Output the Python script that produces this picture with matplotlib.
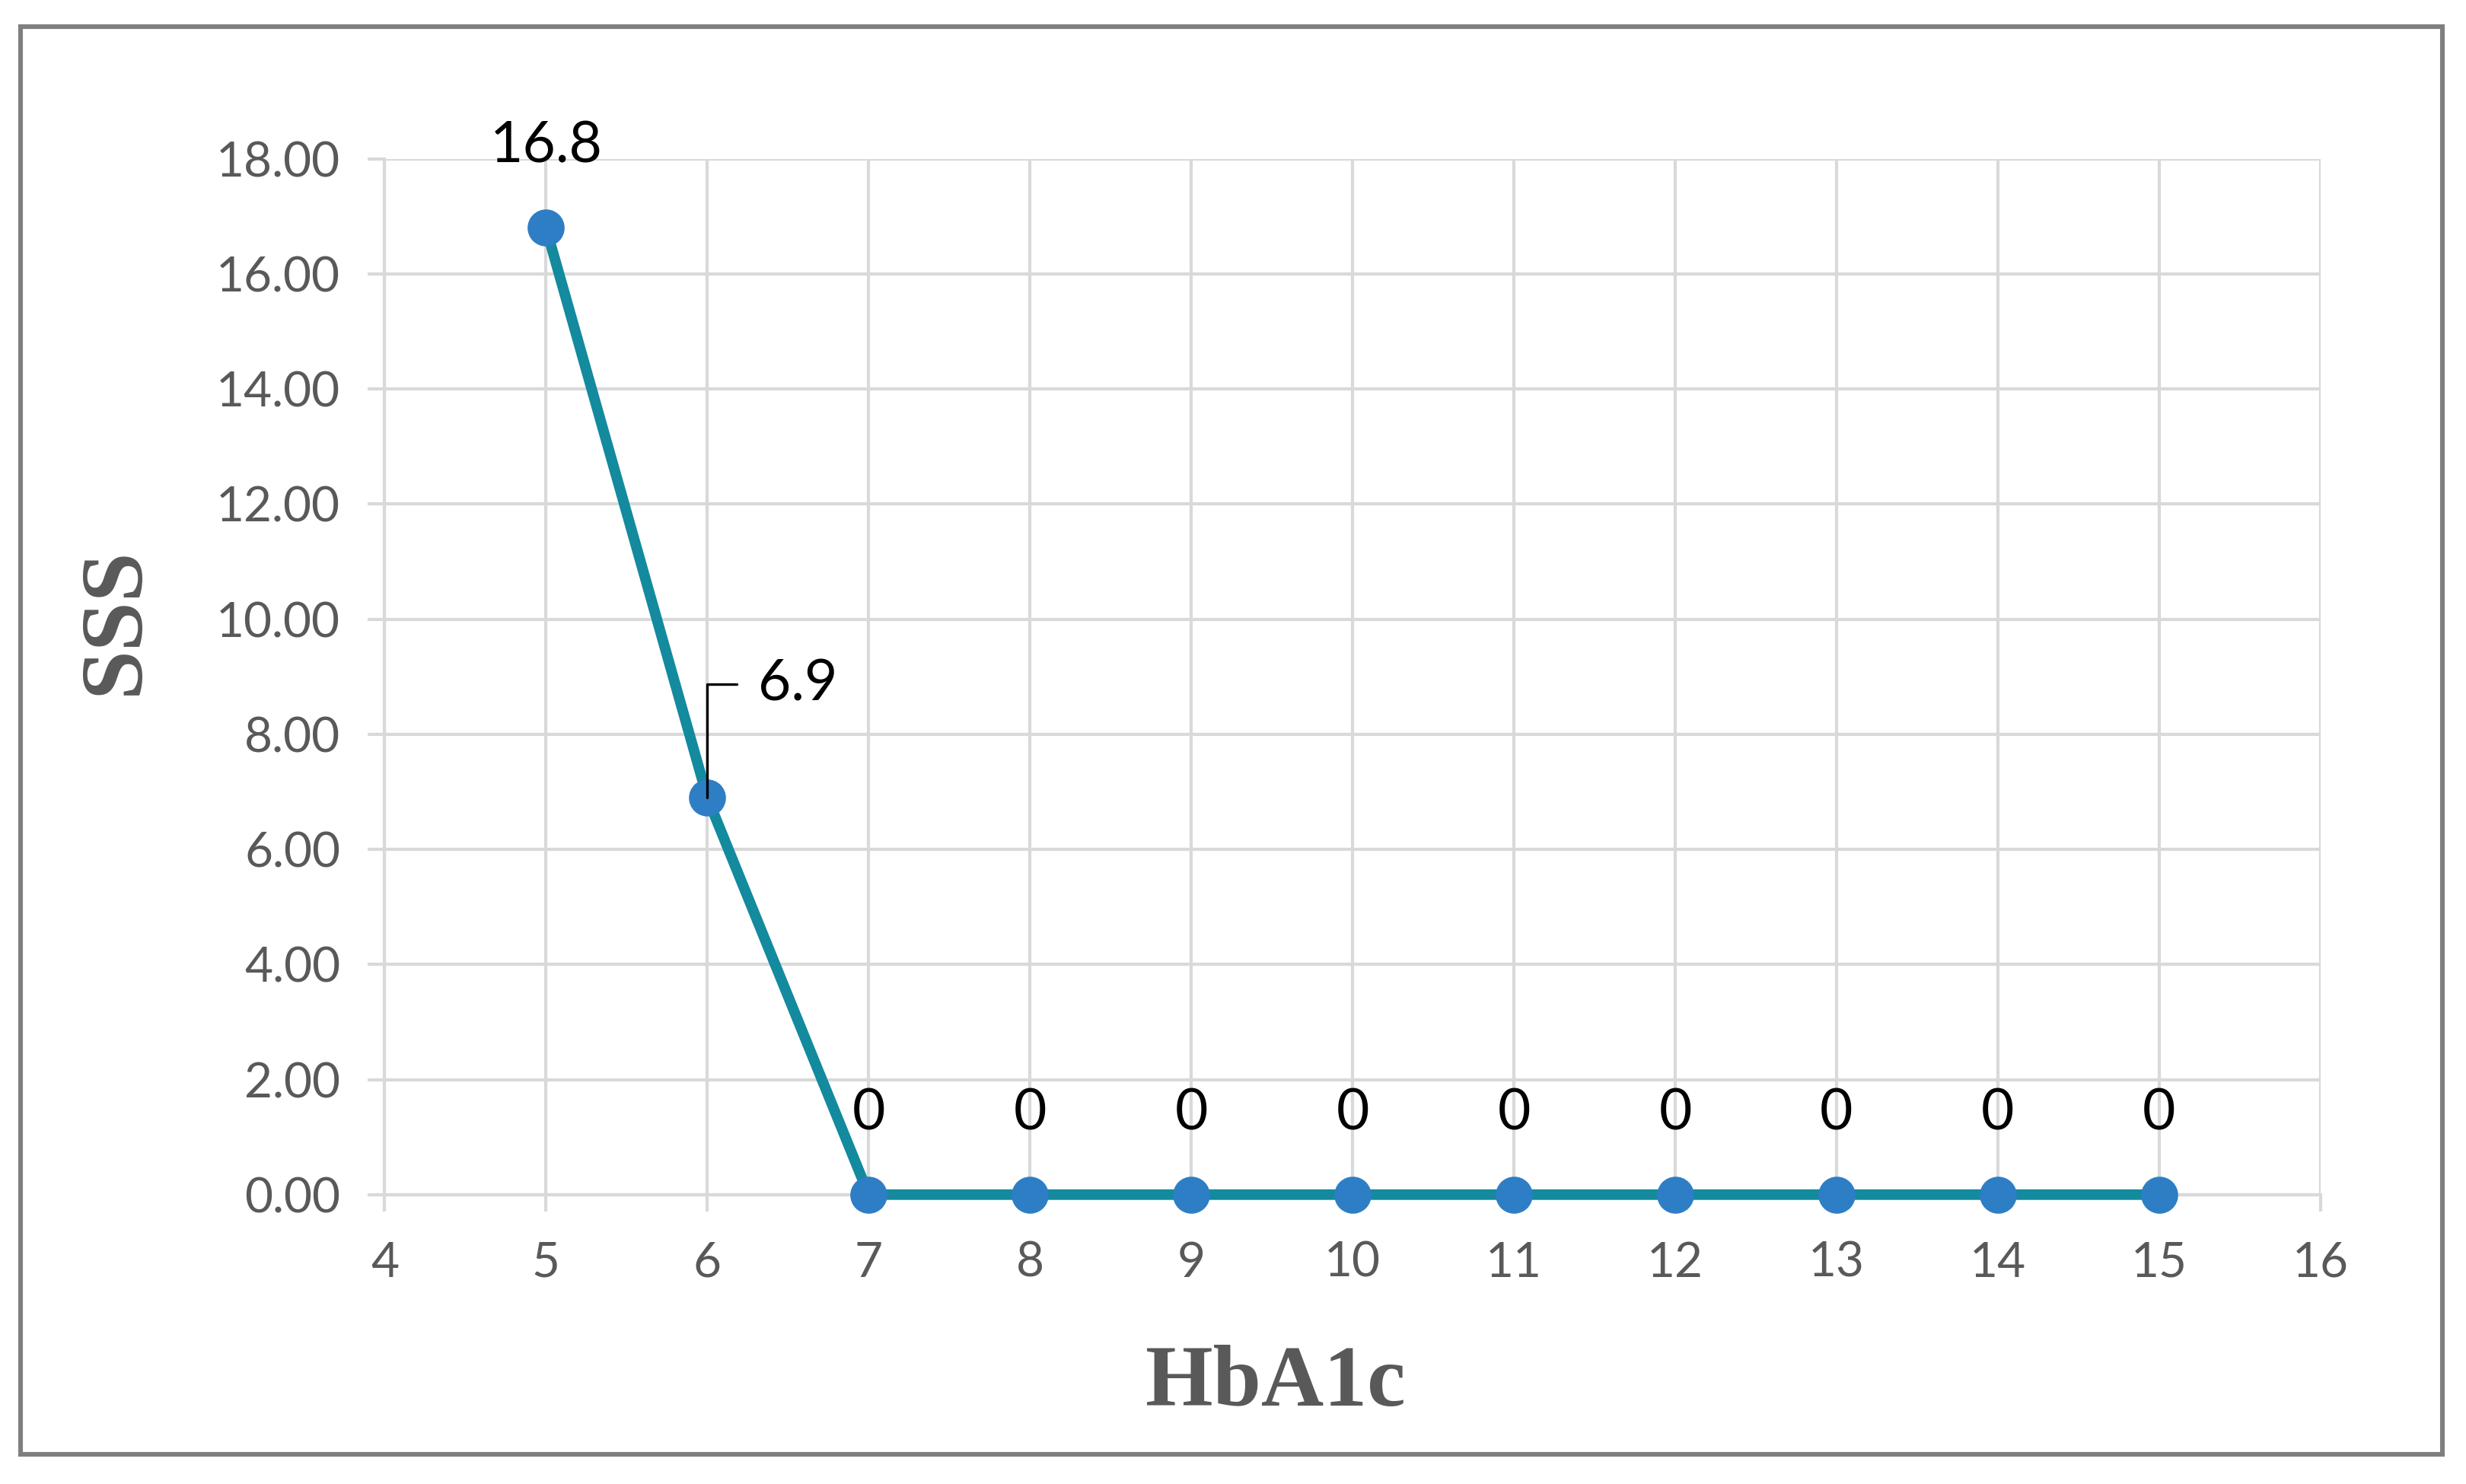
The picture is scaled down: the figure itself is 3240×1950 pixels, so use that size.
import matplotlib.pyplot as plt
from matplotlib.patches import Rectangle

hba1c = [5, 6, 7, 8, 9, 10, 11, 12, 13, 14, 15]
sss = [16.8, 6.9, 0, 0, 0, 0, 0, 0, 0, 0, 0]
point_labels = ['16.8', '6.9', '0', '0', '0', '0', '0', '0', '0', '0', '0']
x_ticks = list(range(4, 17))
y_ticks = [0, 2, 4, 6, 8, 10, 12, 14, 16, 18]

grid_col = '#d9d9d9'
text_col = '#595959'

fig = plt.figure(figsize=(16.2, 9.75), dpi=200)
ax = fig.add_axes([0.156, 0.195, 0.785, 0.698])

ax.plot(hba1c, sss, color='#138a9e', lw=5, zorder=3, clip_on=False,
        marker='o', markersize=16.5, markerfacecolor='#2e7ec5', markeredgecolor='#2e7ec5')

ax.set_xlim(4, 16)
ax.set_ylim(0, 18)
ax.set_xticks(x_ticks)
ax.set_yticks(y_ticks)
ax.set_yticklabels(['%.2f' % v for v in y_ticks])
ax.grid(True, color=grid_col, lw=1.5, zorder=0)
ax.set_axisbelow(True)
for s in ['top', 'right']:
    ax.spines[s].set_visible(False)
for s in ['left', 'bottom']:
    ax.spines[s].set_color(grid_col)
    ax.spines[s].set_linewidth(1.5)
ax.tick_params(axis='both', colors=grid_col, width=1.5, labelcolor=text_col, labelsize=23)
ax.tick_params(axis='y', length=8, pad=13)
ax.tick_params(axis='x', length=8, pad=14)
for lab in ax.get_xticklabels() + ax.get_yticklabels():
    lab.set_family('Lato')

# data labels
for x, y, t in zip(hba1c, sss, point_labels):
    if t == '6.9':
        ax.annotate('', xy=(x, y), xytext=(14, 53.5), textcoords='offset points',
                    arrowprops=dict(arrowstyle='-', color='black', lw=1.2,
                                    connectionstyle='angle,angleA=0,angleB=90,rad=0',
                                    shrinkA=0, shrinkB=0), zorder=4)
        ax.annotate(t, xy=(x, y), xytext=(24, 53.5), textcoords='offset points',
                    ha='left', va='center', fontsize=27, family='Lato', color='black')
    else:
        ax.annotate(t, xy=(x, y), xytext=(0, 38.5), textcoords='offset points',
                    ha='center', va='center', fontsize=27, family='Lato', color='black')

ax.set_xlabel('HbA1c', fontsize=41, fontweight='bold', family='Liberation Serif', color=text_col)
ax.set_ylabel('SSS', fontsize=42, fontweight='bold', family='Liberation Serif', color=text_col)
ax.xaxis.set_label_coords(0.46, -0.145)
ax.yaxis.set_label_coords(-0.118, 0.554)

# outer frame
fig.patches.append(Rectangle((27 / 3240, 1 - 1911 / 1950), 3182 / 3240, 1876 / 1950,
                             transform=fig.transFigure, fill=False,
                             edgecolor='#7f7f7f', lw=2.2))

fig.savefig('out.png', dpi=200)
